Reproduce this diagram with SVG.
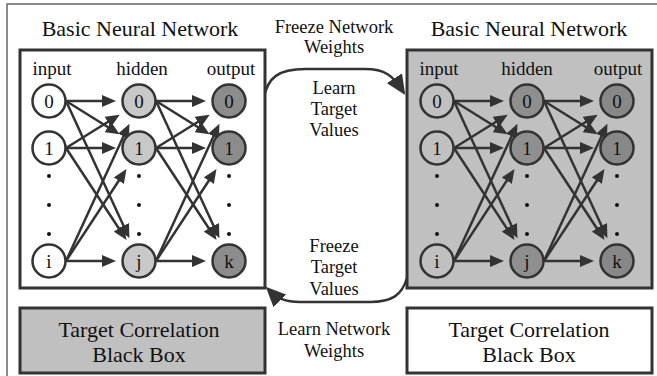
<svg xmlns="http://www.w3.org/2000/svg" width="657" height="376" viewBox="0 0 657 376">
<defs>
<style>
text{font-family:"Liberation Serif","Times New Roman",serif;fill:#111;text-anchor:middle}
.title{font-size:22px}
.lbl{font-size:19px}
.mid{font-size:18.5px}
.box{stroke:#333;stroke-width:3}
.n{stroke:#333;stroke-width:2.5}
.e{stroke:#333;stroke-width:2.5;fill:none;marker-end:url(#ah)}
.c{stroke:#333;stroke-width:2.5;fill:none;marker-end:url(#big)}
.dot{fill:#111}
</style>
<marker id="ah" markerUnits="userSpaceOnUse" markerWidth="14" markerHeight="12" refX="8" refY="6" orient="auto"><path d="M0,0 L14,6 L0,12 z" fill="#333"/></marker>
<marker id="big" markerUnits="userSpaceOnUse" markerWidth="20" markerHeight="18" refX="14" refY="9" orient="auto"><path d="M0,0 L20,9 L0,18 z" fill="#333"/></marker>
</defs>
<rect x="7" y="4" width="660" height="380" fill="#fff" stroke="#666" stroke-width="1.5"/>

<g id="connectors">
<path class="c" d="M264,97 C268,78 278,69 305,69 L365,69 C385,69 393,76 402,90"/>
<path class="c" d="M407,278 C402,295 392,302 370,302 L300,302 C285,302 277,298 270,291"/>
</g>

<g id="left-network">
<rect class="box" x="20" y="50" width="245" height="238" fill="#fff"/>
<text class="lbl" x="52" y="75">input</text>
<text class="lbl" x="142" y="75">hidden</text>
<text class="lbl" x="231" y="75">output</text>
<g id="left-edges">
<line class="e" x1="66" y1="101" x2="110" y2="101"/>
<line class="e" x1="66" y1="101" x2="114.6" y2="131.2"/>
<line class="e" x1="66" y1="101" x2="126.9" y2="232.9"/>
<line class="e" x1="66" y1="148" x2="114.6" y2="117.8"/>
<line class="e" x1="66" y1="148" x2="110" y2="148"/>
<line class="e" x1="66" y1="148" x2="123.2" y2="235"/>
<line class="e" x1="66" y1="261" x2="126.9" y2="129.1"/>
<line class="e" x1="66" y1="261" x2="123.2" y2="174"/>
<line class="e" x1="66" y1="261" x2="110" y2="261"/>
<line class="e" x1="156" y1="101" x2="200" y2="101"/>
<line class="e" x1="156" y1="101" x2="204.6" y2="131.2"/>
<line class="e" x1="156" y1="101" x2="216.9" y2="232.9"/>
<line class="e" x1="156" y1="148" x2="204.6" y2="117.8"/>
<line class="e" x1="156" y1="148" x2="200" y2="148"/>
<line class="e" x1="156" y1="148" x2="213.2" y2="235"/>
<line class="e" x1="156" y1="261" x2="216.9" y2="129.1"/>
<line class="e" x1="156" y1="261" x2="213.2" y2="174"/>
<line class="e" x1="156" y1="261" x2="200" y2="261"/>
</g>
<g id="L-in0"><circle class="n" cx="49" cy="101" r="16.5" fill="#fff"/><text class="lbl" x="49" y="108">0</text></g>
<g id="L-in1"><circle class="n" cx="49" cy="148" r="16.5" fill="#fff"/><text class="lbl" x="49" y="155">1</text></g>
<g id="L-ini"><circle class="n" cx="49" cy="261" r="16.5" fill="#fff"/><text class="lbl" x="49" y="268">i</text></g>
<g id="L-h0"><circle class="n" cx="139" cy="101" r="16.5" fill="#c8c8c8"/><text class="lbl" x="139" y="108">0</text></g>
<g id="L-h1"><circle class="n" cx="139" cy="148" r="16.5" fill="#c8c8c8"/><text class="lbl" x="139" y="155">1</text></g>
<g id="L-hj"><circle class="n" cx="139" cy="261" r="16.5" fill="#c8c8c8"/><text class="lbl" x="139" y="268">j</text></g>
<g id="L-o0"><circle class="n" cx="229" cy="101" r="16.5" fill="#8c8c8c"/><text class="lbl" x="229" y="108">0</text></g>
<g id="L-o1"><circle class="n" cx="229" cy="148" r="16.5" fill="#8c8c8c"/><text class="lbl" x="229" y="155">1</text></g>
<g id="L-ok"><circle class="n" cx="229" cy="261" r="16.5" fill="#8c8c8c"/><text class="lbl" x="229" y="268">k</text></g>
<g class="dot">
<circle cx="49" cy="176" r="2"/><circle cx="49" cy="205" r="2"/><circle cx="49" cy="234" r="2"/>
<circle cx="139" cy="176" r="2"/><circle cx="139" cy="205" r="2"/><circle cx="139" cy="234" r="2"/>
<circle cx="229" cy="176" r="2"/><circle cx="229" cy="205" r="2"/><circle cx="229" cy="234" r="2"/>
</g>
</g>

<g id="right-network">
<rect class="box" x="407" y="50" width="245" height="238" fill="#c0c0c0"/>
<text class="lbl" x="439" y="75">input</text>
<text class="lbl" x="527" y="75">hidden</text>
<text class="lbl" x="618" y="75">output</text>
<g id="right-edges">
<line class="e" x1="454" y1="101" x2="498" y2="101"/>
<line class="e" x1="454" y1="101" x2="502.6" y2="131.2"/>
<line class="e" x1="454" y1="101" x2="514.9" y2="232.9"/>
<line class="e" x1="454" y1="148" x2="502.6" y2="117.8"/>
<line class="e" x1="454" y1="148" x2="498" y2="148"/>
<line class="e" x1="454" y1="148" x2="511.2" y2="235"/>
<line class="e" x1="454" y1="261" x2="514.9" y2="129.1"/>
<line class="e" x1="454" y1="261" x2="511.2" y2="174"/>
<line class="e" x1="454" y1="261" x2="498" y2="261"/>
<line class="e" x1="544" y1="101" x2="588" y2="101"/>
<line class="e" x1="544" y1="101" x2="592.6" y2="131.2"/>
<line class="e" x1="544" y1="101" x2="604.9" y2="232.9"/>
<line class="e" x1="544" y1="148" x2="592.6" y2="117.8"/>
<line class="e" x1="544" y1="148" x2="588" y2="148"/>
<line class="e" x1="544" y1="148" x2="601.2" y2="235"/>
<line class="e" x1="544" y1="261" x2="604.9" y2="129.1"/>
<line class="e" x1="544" y1="261" x2="601.2" y2="174"/>
<line class="e" x1="544" y1="261" x2="588" y2="261"/>
</g>
<g id="R-in0"><circle class="n" cx="437" cy="101" r="16.5" fill="#c0c0c0"/><text class="lbl" x="437" y="108">0</text></g>
<g id="R-in1"><circle class="n" cx="437" cy="148" r="16.5" fill="#c0c0c0"/><text class="lbl" x="437" y="155">1</text></g>
<g id="R-ini"><circle class="n" cx="437" cy="261" r="16.5" fill="#c0c0c0"/><text class="lbl" x="437" y="268">i</text></g>
<g id="R-h0"><circle class="n" cx="527" cy="101" r="16.5" fill="#8f8f8f"/><text class="lbl" x="527" y="108">0</text></g>
<g id="R-h1"><circle class="n" cx="527" cy="148" r="16.5" fill="#8f8f8f"/><text class="lbl" x="527" y="155">1</text></g>
<g id="R-hj"><circle class="n" cx="527" cy="261" r="16.5" fill="#8f8f8f"/><text class="lbl" x="527" y="268">j</text></g>
<g id="R-o0"><circle class="n" cx="617" cy="101" r="16.5" fill="#888"/><text class="lbl" x="617" y="108">0</text></g>
<g id="R-o1"><circle class="n" cx="617" cy="148" r="16.5" fill="#888"/><text class="lbl" x="617" y="155">1</text></g>
<g id="R-ok"><circle class="n" cx="617" cy="261" r="16.5" fill="#888"/><text class="lbl" x="617" y="268">k</text></g>
<g class="dot">
<circle cx="437" cy="176" r="2"/><circle cx="437" cy="205" r="2"/><circle cx="437" cy="234" r="2"/>
<circle cx="527" cy="176" r="2"/><circle cx="527" cy="205" r="2"/><circle cx="527" cy="234" r="2"/>
<circle cx="617" cy="176" r="2"/><circle cx="617" cy="205" r="2"/><circle cx="617" cy="234" r="2"/>
</g>
</g>

<g id="titles">
<text class="title" x="140" y="36">Basic Neural Network</text>
<text class="title" x="529" y="36">Basic Neural Network</text>
</g>

<g id="left-blackbox">
<rect class="box" x="20" y="308" width="245" height="65" fill="#c0c0c0"/>
<text class="title" x="139" y="337">Target Correlation</text>
<text class="title" x="139" y="362">Black Box</text>
</g>
<g id="right-blackbox">
<rect class="box" x="407" y="308" width="245" height="65" fill="#fff"/>
<text class="title" x="529" y="337">Target Correlation</text>
<text class="title" x="529" y="362">Black Box</text>
</g>

<g id="middle-labels">
<text class="mid" x="334" y="33">Freeze Network</text>
<text class="mid" x="334" y="53">Weights</text>
<text class="mid" x="334" y="94">Learn</text>
<text class="mid" x="334" y="115">Target</text>
<text class="mid" x="334" y="136">Values</text>
<text class="mid" x="334" y="252">Freeze</text>
<text class="mid" x="334" y="273">Target</text>
<text class="mid" x="334" y="295">Values</text>
<text class="mid" x="334" y="335">Learn Network</text>
<text class="mid" x="334" y="357">Weights</text>
</g>
</svg>
